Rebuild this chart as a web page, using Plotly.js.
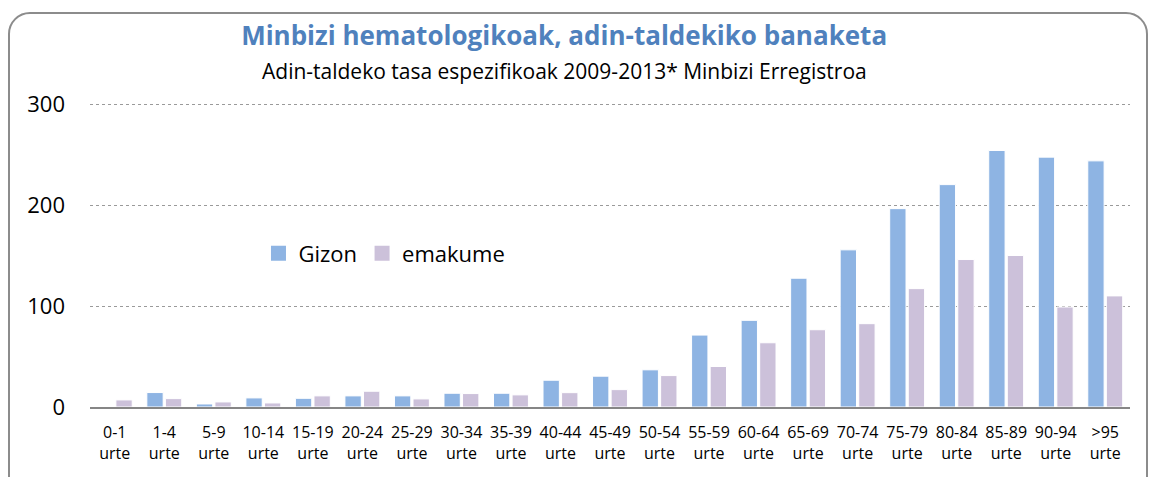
<!DOCTYPE html>
<html><head><meta charset="utf-8">
<script src="https://cdn.plot.ly/plotly-3.0.1.min.js"></script>
<style>
html,body{margin:0;padding:0;background:#fff;width:1156px;height:477px;overflow:hidden;}
#frame{position:absolute;left:8px;top:12px;width:1140px;height:490px;border:2px solid #8c8c8c;border-radius:22px;box-sizing:border-box;}
#chart{position:absolute;left:0;top:0;width:1156px;height:477px;}
</style></head>
<body>
<div id="frame"></div>
<div id="chart"></div>
<script>
const categories = ["0-1<br>urte","1-4<br>urte","5-9<br>urte","10-14<br>urte","15-19<br>urte","20-24<br>urte","25-29<br>urte","30-34<br>urte","35-39<br>urte","40-44<br>urte","45-49<br>urte","50-54<br>urte","55-59<br>urte","60-64<br>urte","65-69<br>urte","70-74<br>urte","75-79<br>urte","80-84<br>urte","85-89<br>urte","90-94<br>urte",">95<br>urte"];
const gizon = [0, 14.3, 3, 9, 8.6, 11, 11, 13.6, 13.6, 26.5, 30.5, 36.8, 71.2, 85.8, 127.5, 155.6, 196.4, 220.2, 254, 247.4, 243.7];
const emakume = [7, 8.3, 5, 4, 11, 15.6, 8, 13.3, 12, 14.2, 17.2, 31.1, 40.1, 63.6, 76.5, 82.5, 117.2, 146, 150, 99, 110];
const yTicks = [0, 100, 200, 300];
const seriesNames = ["Gizon", "emakume"];
const seriesColors = ["#8EB4E3", "#CCC1DA"];

const FONT = "Open Sans, Liberation Sans, sans-serif";
const traces = [
  {type:"bar", name:seriesNames[0], x:categories, y:gizon, showlegend:false, marker:{color:seriesColors[0], line:{color:"#ffffff", width:1}}},
  {type:"bar", name:seriesNames[1], x:categories, y:emakume, showlegend:false, marker:{color:seriesColors[1], line:{color:"#ffffff", width:1}}},
  {type:"scatter", mode:"markers", name:seriesNames[0], x:[null], y:[null], marker:{symbol:"square", size:15, color:seriesColors[0]}},
  {type:"scatter", mode:"markers", name:seriesNames[1], x:[null], y:[null], marker:{symbol:"square", size:15, color:seriesColors[1]}}
];
const layout = {
  width:1156, height:477,
  paper_bgcolor:"rgba(0,0,0,0)", plot_bgcolor:"rgba(0,0,0,0)",
  margin:{l:90, r:26, t:103, b:70},
  barmode:"group", bargap:0.25, bargroupgap:0.12,
  font:{family:FONT, color:"#000"},
  title:{text:"<b>Minbizi hematologikoak, adin-taldekiko banaketa</b>", font:{family:FONT, size:26, color:"#4F81BD"}, xref:"container", yref:"container", x:0.488, xanchor:"center", y:1-36/477, yanchor:"middle"},
  annotations:[{text:"Adin-taldeko tasa espezifikoak 2009-2013* Minbizi Erregistroa", xref:"paper", yref:"paper", x:0.456, y:(407-71)/304, xanchor:"center", yanchor:"middle", showarrow:false, font:{family:FONT, size:21, color:"#000"}}],
  showlegend:true,
  legend:{orientation:"h", x:0.162, xanchor:"left", y:0.505, yanchor:"middle", font:{family:FONT, size:22}, bgcolor:"rgba(0,0,0,0)", traceorder:"normal", itemwidth:30},
  xaxis:{type:"category", showline:true, linecolor:"#868686", linewidth:2, ticks:"", tickfont:{family:FONT, size:16}, tickangle:0, showgrid:false, fixedrange:true, ticklabelstandoff:10},
  yaxis:{range:[0,301], tickvals:yTicks, ticktext:yTicks.map(String), showgrid:true, gridcolor:"#9a9a9a", griddash:"dot", gridwidth:1, zeroline:false, showline:false, tickfont:{family:FONT, size:22}, ticks:"", ticklabelstandoff:24, fixedrange:true}
};
Plotly.newPlot("chart", traces, layout, {displayModeBar:false, staticPlot:true});
</script>
</body></html>
